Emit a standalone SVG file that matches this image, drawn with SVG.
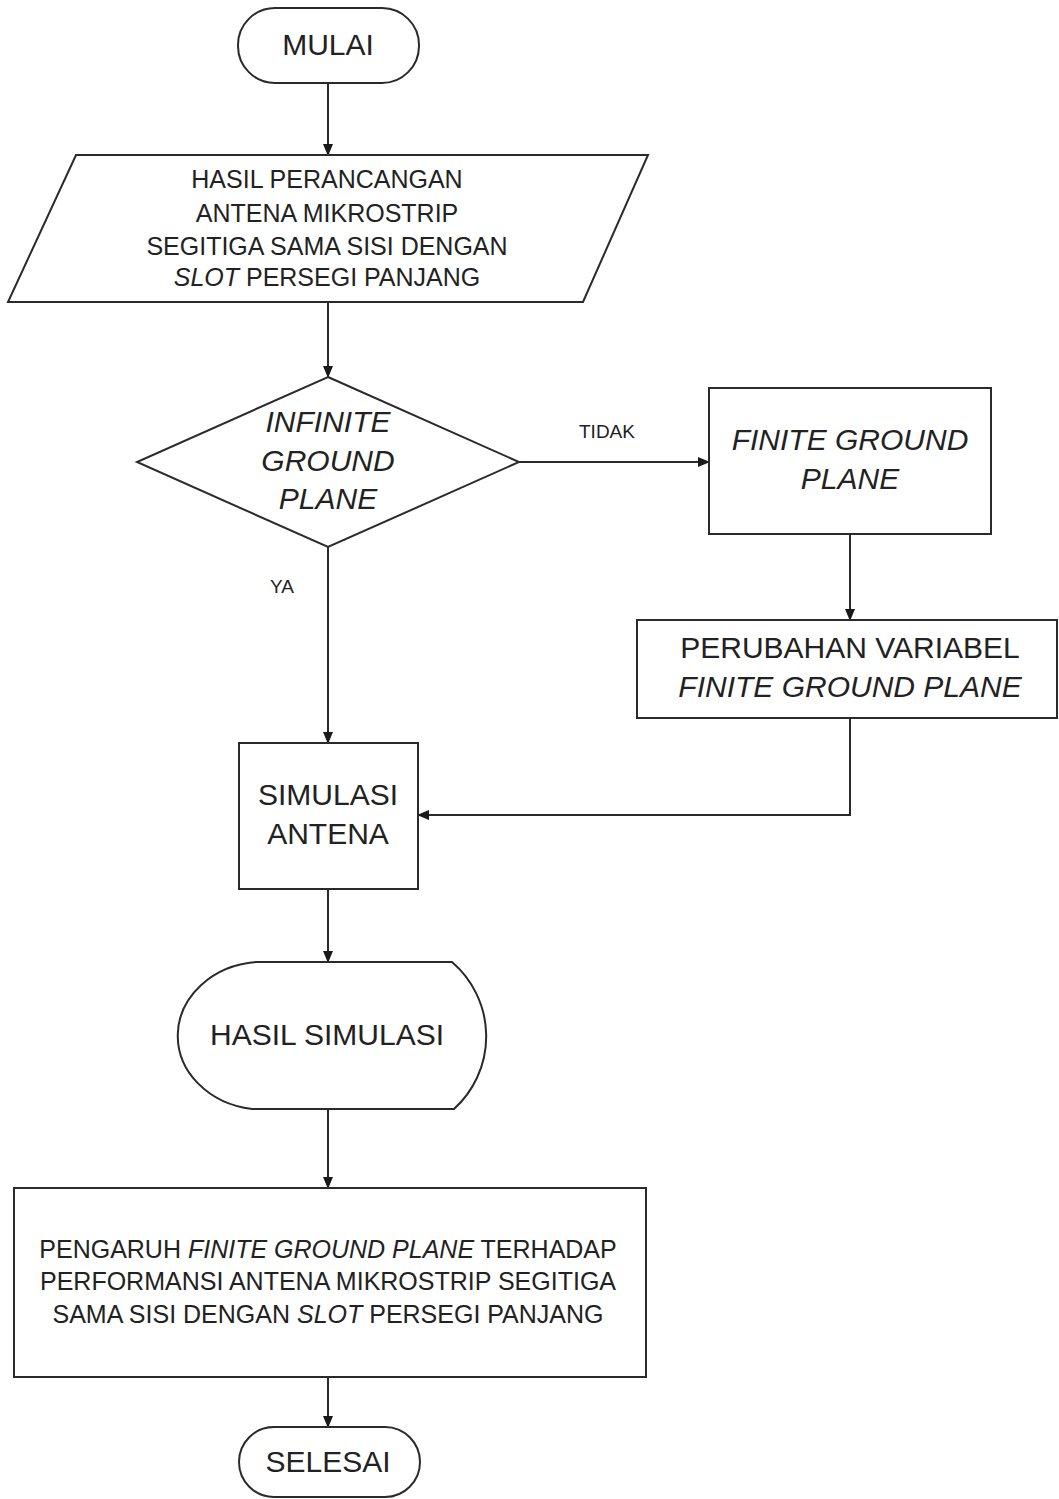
<svg xmlns="http://www.w3.org/2000/svg" width="1059" height="1499" viewBox="0 0 1059 1499">
<defs>
<marker id="arr" markerWidth="12" markerHeight="10" refX="11" refY="5" orient="auto" markerUnits="userSpaceOnUse">
<path d="M0,0 L12,5 L0,10 Z" fill="#1a1a1a"/>
</marker>
<style>
.s{fill:#fff;stroke:#2a2a2a;stroke-width:2}
.c{fill:none;stroke:#2a2a2a;stroke-width:2;marker-end:url(#arr)}
text{font-family:"Liberation Sans",Arial,sans-serif;fill:#222;text-anchor:middle}
.b{font-size:30px}
.m{font-size:25px}
.l{font-size:19px}
.i{font-style:italic}
</style>
</defs>
<rect width="1059" height="1499" fill="#fff"/>
<g id="connectors">
<path class="c" d="M328,83 V155"/>
<path class="c" d="M328,302 V377"/>
<path class="c" d="M519,462 H709"/>
<path class="c" d="M850,534 V620"/>
<path class="c" d="M328,547 V743"/>
<path class="c" d="M850,718 V815 H418"/>
<path class="c" d="M328,889 V962"/>
<path class="c" d="M328,1109 V1188"/>
<path class="c" d="M328,1377 V1427"/>
<text class="l" x="607" y="438">TIDAK</text>
<text class="l" x="282" y="593">YA</text>
</g>
<g id="mulai">
<rect class="s" x="238" y="8" width="181" height="75" rx="37" ry="37"/>
<text class="b" x="328" y="55">MULAI</text>
</g>
<g id="input">
<path class="s" d="M76,155 H648 L583,302 H8 Z"/>
<text class="m" x="327" y="188">HASIL PERANCANGAN</text>
<text class="m" x="327" y="222">ANTENA MIKROSTRIP</text>
<text class="m" x="327" y="255">SEGITIGA SAMA SISI DENGAN</text>
<text class="m" x="327" y="286"><tspan class="i">SLOT</tspan> PERSEGI PANJANG</text>
</g>
<g id="decision">
<path class="s" d="M328,377 L519,462 L328,547 L137,462 Z"/>
<text class="b i" x="328" y="432">INFINITE</text>
<text class="b i" x="328" y="471">GROUND</text>
<text class="b i" x="328" y="509">PLANE</text>
</g>
<g id="finite">
<rect class="s" x="709" y="388" width="282" height="146"/>
<text class="b i" x="850" y="450">FINITE GROUND</text>
<text class="b i" x="850" y="489">PLANE</text>
</g>
<g id="perubahan">
<rect class="s" x="637" y="620" width="420" height="98"/>
<text class="b" x="850" y="658">PERUBAHAN VARIABEL</text>
<text class="b i" x="850" y="697">FINITE GROUND PLANE</text>
</g>
<g id="simulasi">
<rect class="s" x="239" y="743" width="179" height="146"/>
<text class="b" x="328" y="805">SIMULASI</text>
<text class="b" x="328" y="844">ANTENA</text>
</g>
<g id="hasil">
<path class="s" d="M256,962 H452 A98,98 0 0 1 454,1109 H252 A86,74 0 0 1 256,962 Z"/>
<text class="b" x="327" y="1045">HASIL SIMULASI</text>
</g>
<g id="pengaruh">
<rect class="s" x="14" y="1188" width="632" height="189"/>
<text class="m" x="328" y="1258">PENGARUH <tspan class="i">FINITE GROUND PLANE</tspan> TERHADAP</text>
<text class="m" x="328" y="1290">PERFORMANSI ANTENA MIKROSTRIP SEGITIGA</text>
<text class="m" x="328" y="1323">SAMA SISI DENGAN <tspan class="i">SLOT</tspan> PERSEGI PANJANG</text>
</g>
<g id="selesai">
<rect class="s" x="239" y="1427" width="181" height="70" rx="35" ry="35"/>
<text class="b" x="328" y="1472">SELESAI</text>
</g>
</svg>
